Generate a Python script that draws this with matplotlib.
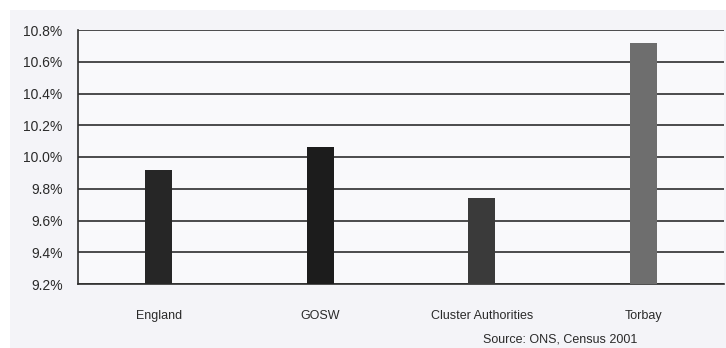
import matplotlib
matplotlib.use('Agg')
import matplotlib.pyplot as plt
from matplotlib.patches import Rectangle
from matplotlib.ticker import FuncFormatter

# share of population, by area
areas = ['England', 'GOSW', 'Cluster Authorities', 'Torbay']
share = [9.92, 10.06, 9.74, 10.72]
bar_colors = ['#262626', '#1c1c1c', '#3a3a3a', '#6e6e6e']
yticks = [9.2, 9.4, 9.6, 9.8, 10.0, 10.2, 10.4, 10.6, 10.8]

plt.rcParams['font.family'] = ['Liberation Sans', 'DejaVu Sans']

fig = plt.figure(figsize=(7.26, 3.48), dpi=100, facecolor='white')
# scanned page tone
fig.patches.append(Rectangle((10 / 726, 0), 1, 1 - 10 / 348,
                             transform=fig.transFigure, facecolor='#f4f4f8',
                             edgecolor='none', zorder=-10))

ax = fig.add_axes([78 / 726, 64 / 348, 646 / 726, 254 / 348])
ax.set_facecolor('#f9f9fb')

x = range(len(areas))
ax.bar(x, [v - 9.2 for v in share], bottom=9.2, width=0.17,
       color=bar_colors, zorder=3)

ax.set_xlim(-0.5, 3.5)
ax.set_ylim(9.2, 10.8)
ax.set_yticks(yticks)
ax.yaxis.set_major_formatter(FuncFormatter(lambda v, p: f'{v:.1f}%'))
ax.set_xticks(list(x))
ax.set_xticklabels(areas)

ax.grid(axis='y', color='#2e2e2e', linewidth=1.2, zorder=1)
ax.tick_params(axis='both', length=0, colors='#2a2a2a')
ax.tick_params(axis='y', labelsize=10, pad=11)
ax.tick_params(axis='x', labelsize=9, pad=19)

for s in ['top', 'right']:
    ax.spines[s].set_visible(False)
for s in ['left', 'bottom']:
    ax.spines[s].set_color('#2e2e2e')
    ax.spines[s].set_linewidth(1.2)

fig.text(560 / 726, 1 - 340 / 348, 'Source: ONS, Census 2001',
         ha='center', va='center', fontsize=9, color='#2a2a2a')

fig.savefig('out.png', dpi=100, facecolor=fig.get_facecolor())
